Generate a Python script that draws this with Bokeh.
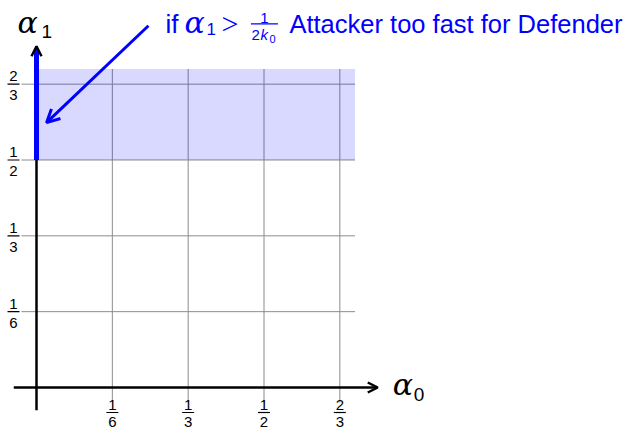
from bokeh.plotting import figure
from bokeh.models import Range1d, Arrow, OpenHead
from bokeh.core.properties import value
from bokeh.embed import file_html
from bokeh.resources import INLINE

# ---- data ----
tick_values = [1/6, 1/3, 1/2, 2/3]
tick_num = ["1", "1", "1", "2"]
tick_den = ["6", "3", "2", "3"]
grid_lo, grid_hi = -0.033, 0.7
axis_lo, axis_hi = -0.05, 0.75
region_a0 = [0.0, 0.7]
region_a1 = [0.5, 0.7]
threshold = 0.5
annot_start = [0.246, 0.795]
annot_end = [0.022, 0.582]
annot_text = "Attacker too fast for Defender"

# ---- layout ----
PX = 455.0          # pixels per unit
W, H = 629, 429
ox, oy = 36.0, 387.0  # origin in canvas pixels (from left, from top)

p = figure(width=W, height=H,
           x_range=Range1d(-ox / PX, (W - ox) / PX),
           y_range=Range1d((oy - H) / PX, oy / PX),
           x_axis_type=None, y_axis_type=None,
           toolbar_location=None, output_backend="svg",
           min_border=0, outline_line_color=None)
p.background_fill_color = "white"
p.border_fill_color = "white"

BLUE = "#0000ff"
SANS = value("Liberation Sans")
SERIF = value("DejaVu Serif")
K = 0.26  # empirical baseline correction (fraction of font size)

# grid
n = len(tick_values)
p.segment(x0=tick_values, y0=[grid_lo] * n, x1=tick_values, y1=[grid_hi] * n,
          line_color="#8c8c8c", line_width=1)
p.segment(x0=[grid_lo] * n, y0=tick_values, x1=[grid_hi] * n, y1=tick_values,
          line_color="#8c8c8c", line_width=1)

# shaded region
p.quad(left=region_a0[0], right=region_a0[1], bottom=region_a1[0], top=region_a1[1],
       fill_color=BLUE, fill_alpha=0.15, line_color=None)

# axes
p.add_layout(Arrow(end=OpenHead(size=10, line_width=2.5, line_color="black"),
                   x_start=axis_lo, y_start=0, x_end=axis_hi, y_end=0,
                   line_width=2.5, line_color="black"))
p.segment(x0=[0], y0=[axis_lo], x1=[0], y1=[axis_hi], line_color="black", line_width=2.5)
p.segment(x0=[0], y0=[threshold], x1=[0], y1=[axis_hi - 3 / PX],
          line_color=BLUE, line_width=5)
p.add_layout(Arrow(end=OpenHead(size=10, line_width=2.5, line_color="black"),
                   x_start=0, y_start=axis_hi - 0.05, x_end=0, y_end=axis_hi,
                   line_alpha=0))

# annotation arrow
p.add_layout(Arrow(end=OpenHead(size=13, line_width=3, line_color=BLUE),
                   x_start=annot_start[0], y_start=annot_start[1],
                   x_end=annot_end[0], y_end=annot_end[1],
                   line_width=3, line_color=BLUE))

# tick labels (fractions)
zeros = [0] * n
FS = 15
fs = f"{FS}px"
c = K * FS
# x axis
p.text(x=tick_values, y=zeros, text=tick_num, y_offset=21 - c, text_align="center",
       text_baseline="alphabetic", text_font=SANS, text_font_size=fs, text_color="black")
p.text(x=tick_values, y=zeros, text=tick_den, y_offset=38 - c, text_align="center",
       text_baseline="alphabetic", text_font=SANS, text_font_size=fs, text_color="black")
p.scatter(x=tick_values, y=[-25 / PX] * n, marker="dash", size=12,
          line_color="black", line_width=1.2)
# y axis
p.text(x=zeros, y=tick_values, text=tick_num, x_offset=-23, y_offset=-4 - c, text_align="center",
       text_baseline="alphabetic", text_font=SANS, text_font_size=fs, text_color="black")
p.text(x=zeros, y=tick_values, text=tick_den, x_offset=-23, y_offset=15 - c, text_align="center",
       text_baseline="alphabetic", text_font=SANS, text_font_size=fs, text_color="black")
p.scatter(x=[-23 / PX] * n, y=tick_values, marker="dash", size=12,
          line_color="black", line_width=1.2)


def txt(x, y, s, dx, dy, size, font=SANS, style="normal", color="black", align="left"):
    p.text(x=[x], y=[y], text=[s], x_offset=dx, y_offset=dy - K * size, text_font=font,
           text_font_size=f"{size}px", text_font_style=style, text_color=color,
           text_align=align, text_baseline="alphabetic")


# axis labels
txt(0, axis_hi, "α", -19, -16, 30, font=SERIF, style="italic")
txt(0, axis_hi, "1", 5, -10, 19)
txt(axis_hi, 0, "α", 15, 5, 30, font=SERIF, style="italic")
txt(axis_hi, 0, "0", 36, 12, 19)

# annotation text
ax, ay = annot_start
txt(ax, ay, "if", 17, 5, 26, color=BLUE)
txt(ax, ay, "α", 36, 5, 30, font=SERIF, style="italic", color=BLUE)
txt(ax, ay, "1", 58, 8, 17, color=BLUE)
txt(ax, ay, ">", 73, 6, 30, font=value("Liberation Serif"), color=BLUE)
txt(ax, ay, "1", 116, -4, 15, color=BLUE, align="center")
p.scatter(x=[ax + 116 / PX], y=[ay + 2 / PX], marker="dash", size=27,
          line_color=BLUE, line_width=1.2)
txt(ax, ay, "2", 103, 13, 15, color=BLUE)
txt(ax, ay, "k", 112, 13, 15, style="italic", color=BLUE)
txt(ax, ay, "0", 121, 16, 11, color=BLUE)
txt(ax, ay, annot_text, 141, 5, 25.5, color=BLUE)

open("out.html", "w").write(file_html(p, INLINE))
